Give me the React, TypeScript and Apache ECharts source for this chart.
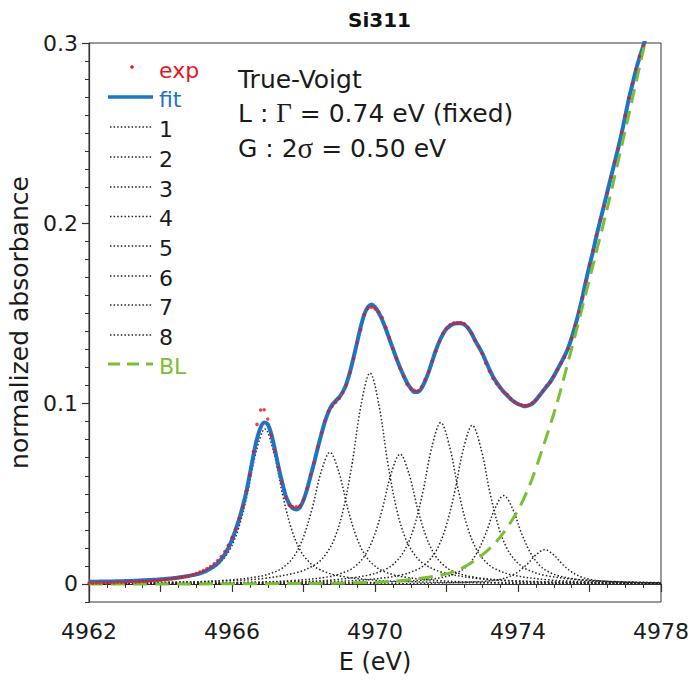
import React, { useEffect, useRef } from "react";
import * as echarts from "echarts";

// Energy grid of the measured / fitted spectrum (eV)
const energy = [
  4962.0, 4962.1, 4962.2, 4962.3, 4962.4, 4962.5, 4962.6, 4962.7, 4962.8, 4962.9,
  4963.0, 4963.1, 4963.2, 4963.3, 4963.4, 4963.5, 4963.6, 4963.7, 4963.8, 4963.9,
  4964.0, 4964.1, 4964.2, 4964.3, 4964.4, 4964.5, 4964.6, 4964.7, 4964.8, 4964.9,
  4965.0, 4965.1, 4965.2, 4965.3, 4965.4, 4965.5, 4965.6, 4965.7, 4965.8, 4965.9,
  4966.0, 4966.1, 4966.2, 4966.3, 4966.4, 4966.5, 4966.6, 4966.7, 4966.8, 4966.9,
  4967.0, 4967.1, 4967.2, 4967.3, 4967.4, 4967.5, 4967.6, 4967.7, 4967.8, 4967.9,
  4968.0, 4968.1, 4968.2, 4968.3, 4968.4, 4968.5, 4968.6, 4968.7, 4968.8, 4968.9,
  4969.0, 4969.1, 4969.2, 4969.3, 4969.4, 4969.5, 4969.6, 4969.7, 4969.8, 4969.9,
  4970.0, 4970.1, 4970.2, 4970.3, 4970.4, 4970.5, 4970.6, 4970.7, 4970.8, 4970.9,
  4971.0, 4971.1, 4971.2, 4971.3, 4971.4, 4971.5, 4971.6, 4971.7, 4971.8, 4971.9,
  4972.0, 4972.1, 4972.2, 4972.3, 4972.4, 4972.5, 4972.6, 4972.7, 4972.8, 4972.9,
  4973.0, 4973.1, 4973.2, 4973.3, 4973.4, 4973.5, 4973.6, 4973.7, 4973.8, 4973.9,
  4974.0, 4974.1, 4974.2, 4974.3, 4974.4, 4974.5, 4974.6, 4974.7, 4974.8, 4974.9,
  4975.0, 4975.1, 4975.2, 4975.3, 4975.4, 4975.5, 4975.6, 4975.7, 4975.8, 4975.9,
  4976.0, 4976.1, 4976.2, 4976.3, 4976.4, 4976.5, 4976.6, 4976.7, 4976.8, 4976.9,
  4977.0, 4977.1, 4977.2, 4977.3, 4977.4, 4977.5, 4977.6,
];

// measured points (exp)
const expValues = [
  0.0005, 0.0004, 0.0006, 0.0005, 0.0007, 0.0006, 0.0008, 0.0007, 0.0009, 0.001,
  0.0009, 0.0011, 0.0012, 0.0011, 0.0013, 0.0015, 0.0014, 0.0016, 0.0018, 0.0019,
  0.0021, 0.0023, 0.0025, 0.0027, 0.003, 0.0034, 0.0037, 0.0041, 0.0046, 0.0051,
  0.0058, 0.0066, 0.0074, 0.0085, 0.0097, 0.0112, 0.013, 0.0152, 0.018, 0.0215,
  0.0258, 0.0305, 0.0365, 0.043, 0.0515, 0.0605, 0.0735, 0.0885, 0.0965, 0.0966,
  0.0915, 0.0825, 0.0738, 0.0645, 0.0565, 0.0478, 0.0436, 0.0428, 0.0428, 0.0433,
  0.0468, 0.053, 0.0605, 0.0672, 0.076, 0.0838, 0.0905, 0.0958, 0.0985, 0.1008,
  0.103, 0.1062, 0.1105, 0.1172, 0.125, 0.1338, 0.141, 0.1495, 0.1528, 0.1535,
  0.1527, 0.151, 0.1478, 0.1424, 0.1365, 0.1306, 0.125, 0.1196, 0.115, 0.1108,
  0.1082, 0.1074, 0.1072, 0.1092, 0.1132, 0.1178, 0.1236, 0.129, 0.1345, 0.139,
  0.1418, 0.1438, 0.1447, 0.1449, 0.1448, 0.1443, 0.1422, 0.1388, 0.1352, 0.1315,
  0.1278, 0.1224, 0.118, 0.114, 0.1112, 0.1088, 0.1066, 0.105, 0.1028, 0.101,
  0.0998, 0.0992, 0.0989, 0.0992, 0.1005, 0.102, 0.1044, 0.1072, 0.1098, 0.112,
  0.1152, 0.119, 0.1225, 0.1258, 0.1305, 0.1362, 0.1435, 0.151, 0.159, 0.168,
  0.177, 0.185, 0.1935, 0.202, 0.2095, 0.217, 0.2255, 0.234, 0.2415, 0.2505,
  0.26, 0.2695, 0.2775, 0.2855, 0.2925, 0.2985, 0.3055,
];

// fitted curve (fit)
const fitValues = [
  0.0012, 0.0012, 0.0012, 0.0013, 0.0013, 0.0013, 0.0014, 0.0014, 0.0015, 0.0015,
  0.0016, 0.0017, 0.0017, 0.0018, 0.0019, 0.002, 0.0021, 0.0022, 0.0023, 0.0024,
  0.0026, 0.0027, 0.0029, 0.0031, 0.0033, 0.0036, 0.0039, 0.0042, 0.0045, 0.0049,
  0.0053, 0.0059, 0.0066, 0.0075, 0.0086, 0.0099, 0.0115, 0.0137, 0.0165, 0.02,
  0.0245, 0.03, 0.036, 0.043, 0.051, 0.061, 0.0715, 0.0805, 0.0868, 0.0895,
  0.0885, 0.083, 0.0745, 0.065, 0.0565, 0.049, 0.0445, 0.042, 0.0413, 0.0425,
  0.0465, 0.0525, 0.06, 0.0675, 0.0755, 0.083, 0.09, 0.0955, 0.0993, 0.1015,
  0.1035, 0.1065, 0.111, 0.1175, 0.1255, 0.134, 0.1425, 0.1495, 0.1535, 0.155,
  0.1535, 0.1505, 0.1465, 0.1415, 0.136, 0.1305, 0.125, 0.12, 0.1155, 0.1115,
  0.1085, 0.1065, 0.1065, 0.1085, 0.1125, 0.1175, 0.1235, 0.1295, 0.1345, 0.1385,
  0.1415, 0.1432, 0.1442, 0.1446, 0.1446, 0.1438, 0.142, 0.139, 0.135, 0.1315,
  0.128, 0.1235, 0.119, 0.115, 0.1118, 0.109, 0.1065, 0.1045, 0.1025, 0.101,
  0.0998, 0.099, 0.0985, 0.099, 0.1, 0.102, 0.1045, 0.107, 0.1095, 0.112,
  0.1152, 0.1188, 0.1225, 0.1263, 0.1308, 0.1365, 0.1432, 0.1505, 0.1588, 0.168,
  0.1765, 0.1845, 0.1935, 0.2015, 0.2095, 0.2175, 0.2255, 0.2335, 0.2415, 0.25,
  0.2595, 0.269, 0.277, 0.285, 0.292, 0.298, 0.305,
];

// component peaks 1..8 : [E, value]
const peak1 = [
  [4962, 0.00085], [4962.92, 0.0013], [4963.92, 0.0022], [4964.92, 0.0048], [4965.42, 0.0083],
  [4965.67, 0.0119], [4965.92, 0.0183], [4966.17, 0.0301], [4966.42, 0.0491], [4966.67, 0.0729],
  [4966.92, 0.086], [4967.17, 0.0729], [4967.42, 0.0491], [4967.67, 0.0301], [4967.92, 0.0183],
  [4968.17, 0.0119], [4968.42, 0.0083], [4968.92, 0.0048], [4969.92, 0.0022], [4970.92, 0.0013],
  [4972.92, 0.00058], [4974.92, 0.00033], [4978, 0.00016],
];
const peak2 = [
  [4962, 0.0004], [4964.74, 0.0011], [4965.74, 0.0019], [4966.74, 0.0041], [4967.24, 0.007],
  [4967.49, 0.0101], [4967.74, 0.0155], [4967.99, 0.0256], [4968.24, 0.0417], [4968.49, 0.0619],
  [4968.74, 0.073], [4968.99, 0.0619], [4969.24, 0.0417], [4969.49, 0.0256], [4969.74, 0.0155],
  [4969.99, 0.0101], [4970.24, 0.007], [4970.74, 0.0041], [4971.74, 0.0019], [4972.74, 0.0011],
  [4974.74, 0.00049], [4976.74, 0.00028], [4978, 0.00021],
];
const peak3 = [
  [4962, 0.00046], [4963.86, 0.00078], [4965.86, 0.00175], [4966.86, 0.003], [4967.86, 0.0066],
  [4968.36, 0.0112], [4968.61, 0.0161], [4968.86, 0.0249], [4969.11, 0.041], [4969.36, 0.0668],
  [4969.61, 0.0992], [4969.86, 0.117], [4970.11, 0.0992], [4970.36, 0.0668], [4970.61, 0.041],
  [4970.86, 0.0249], [4971.11, 0.0161], [4971.36, 0.0112], [4971.86, 0.0066], [4972.86, 0.003],
  [4973.86, 0.00175], [4975.86, 0.00078], [4977.86, 0.00044], [4978, 0.00043],
];
const peak4 = [
  [4962, 0.00023], [4964.7, 0.00048], [4966.7, 0.0011], [4967.7, 0.0019], [4968.7, 0.004],
  [4969.2, 0.0069], [4969.45, 0.0099], [4969.7, 0.0153], [4969.95, 0.0252], [4970.2, 0.0411],
  [4970.45, 0.0611], [4970.7, 0.072], [4970.95, 0.0611], [4971.2, 0.0411], [4971.45, 0.0252],
  [4971.7, 0.0153], [4971.95, 0.0099], [4972.2, 0.0069], [4972.7, 0.004], [4973.7, 0.0019],
  [4974.7, 0.0011], [4976.7, 0.00048], [4978, 0.00033],
];
const peak5 = [
  [4962, 0.00022], [4963.84, 0.00034], [4965.84, 0.0006], [4967.84, 0.0013], [4968.84, 0.0023],
  [4969.84, 0.005], [4970.34, 0.0086], [4970.59, 0.0124], [4970.84, 0.0191], [4971.09, 0.0313],
  [4971.34, 0.0511], [4971.59, 0.0759], [4971.84, 0.0895], [4972.09, 0.0759], [4972.34, 0.0511],
  [4972.59, 0.0313], [4972.84, 0.0191], [4973.09, 0.0124], [4973.34, 0.0086], [4973.84, 0.005],
  [4974.84, 0.0023], [4975.84, 0.0013], [4977.84, 0.0006], [4978, 0.00058],
];
const peak6 = [
  [4962, 0.00018], [4964.72, 0.00033], [4966.72, 0.00059], [4968.72, 0.0013], [4969.72, 0.0023],
  [4970.72, 0.0049], [4971.22, 0.0084], [4971.47, 0.0121], [4971.72, 0.0187], [4971.97, 0.0308],
  [4972.22, 0.0502], [4972.47, 0.0746], [4972.72, 0.088], [4972.97, 0.0746], [4973.22, 0.0502],
  [4973.47, 0.0308], [4973.72, 0.0187], [4973.97, 0.0121], [4974.22, 0.0084], [4974.72, 0.0049],
  [4975.72, 0.0023], [4976.72, 0.0013], [4978, 0.00076],
];
const peak7 = [
  [4962, 0.00009], [4965.6, 0.00019], [4967.6, 0.00033], [4969.6, 0.00073], [4970.6, 0.0013],
  [4971.6, 0.0027], [4972.1, 0.0047], [4972.35, 0.0068], [4972.6, 0.0104], [4972.85, 0.0172],
  [4973.1, 0.028], [4973.35, 0.0416], [4973.6, 0.049], [4973.85, 0.0416], [4974.1, 0.028],
  [4974.35, 0.0172], [4974.6, 0.0104], [4974.85, 0.0068], [4975.1, 0.0047], [4975.6, 0.0027],
  [4976.6, 0.0013], [4977.6, 0.00073], [4978, 0.00061],
];
const peak8 = [
  [4962, 0.00003], [4966.75, 0.00007], [4968.75, 0.00013], [4970.75, 0.00028], [4971.75, 0.0005],
  [4972.75, 0.0011], [4973.25, 0.0018], [4973.5, 0.0026], [4973.75, 0.004], [4974.0, 0.0067],
  [4974.25, 0.0108], [4974.5, 0.0161], [4974.75, 0.019], [4975.0, 0.0161], [4975.25, 0.0108],
  [4975.5, 0.0067], [4975.75, 0.004], [4976.0, 0.0026], [4976.25, 0.0018], [4976.75, 0.0011],
  [4977.75, 0.0005], [4978, 0.00045],
];

// base line (BL)
const baseline = [
  [4962, 0], [4964, 0], [4966, 0.0001], [4968, 0.0003], [4969.2, 0.0006], [4970.4, 0.0013],
  [4971.2, 0.003], [4971.8, 0.0048], [4972.3, 0.0075], [4972.84, 0.0137], [4973.4, 0.0235],
  [4973.96, 0.0395], [4974.34, 0.0555], [4974.71, 0.0765], [4975.08, 0.0995], [4975.36, 0.12],
  [4975.73, 0.148], [4976.1, 0.177], [4976.48, 0.207], [4977.04, 0.255], [4977.55, 0.3], [4978, 0.338],
];

const peakNames = ["1", "2", "3", "4", "5", "6", "7", "8"];
const xLabelTicks = [4962, 4966, 4970, 4974, 4978];
const yLabelTicks = [0, 0.1, 0.2, 0.3];

const FONT = '"DejaVu Sans", sans-serif';
const SERIF = '"Liberation Serif", "DejaVu Serif", serif';
const RED = "#e8141f";
const BLUE = "#1f74c4";
const GREEN = "#79bf36";
const DOT = "#222222";
const AXIS = "#333";

export default function App() {
  const ref = useRef<HTMLDivElement>(null);

  useEffect(() => {
    if (!ref.current) return;
    const chart = echarts.init(ref.current, null, { renderer: "svg" });
    const peaks = [peak1, peak2, peak3, peak4, peak5, peak6, peak7, peak8];
    const expData = energy.map((e, i) => [e, expValues[i]]);
    const fitData = energy.map((e, i) => [e, fitValues[i]]);

    const legendLineY = [127, 157, 187, 216.5, 246, 276, 305, 335];
    const graphics: any[] = [];
    // legend
    graphics.push({ type: "circle", shape: { cx: 132, cy: 67, r: 1.8 }, style: { fill: RED } });
    graphics.push({
      type: "text", x: 159, y: 70,
      style: { text: "exp", fill: RED, fontSize: 22, fontFamily: FONT, verticalAlign: "middle" },
    });
    graphics.push({
      type: "line", shape: { x1: 108, y1: 97, x2: 153, y2: 97 },
      style: { stroke: BLUE, lineWidth: 3.5 },
    });
    graphics.push({
      type: "text", x: 159, y: 99,
      style: { text: "fit", fill: BLUE, fontSize: 22, fontFamily: FONT, verticalAlign: "middle" },
    });
    peakNames.forEach((n, i) => {
      const y = legendLineY[i];
      graphics.push({
        type: "line", shape: { x1: 110, y1: y, x2: 153, y2: y },
        style: { stroke: DOT, lineWidth: 1.5, lineDash: [1.5, 2.1] },
      });
      graphics.push({
        type: "text", x: 159, y: y + 2,
        style: { text: n, fill: "#1a1a1a", fontSize: 22, fontFamily: FONT, verticalAlign: "middle" },
      });
    });
    graphics.push({
      type: "line", shape: { x1: 108, y1: 364, x2: 153, y2: 364 },
      style: { stroke: GREEN, lineWidth: 3, lineDash: [12, 7] },
    });
    graphics.push({
      type: "text", x: 159, y: 366,
      style: { text: "BL", fill: GREEN, fontSize: 22, fontFamily: FONT, verticalAlign: "middle" },
    });
    // annotation
    graphics.push({
      type: "text", x: 238, y: 79,
      style: { text: "True-Voigt", fill: "#1a1a1a", fontSize: 25, fontFamily: FONT, verticalAlign: "middle" },
    });
    graphics.push({
      type: "text", x: 238, y: 113,
      style: {
        text: "{a|L : }{g|Γ}{a| = 0.74 eV (fixed)}",
        verticalAlign: "middle",
        rich: {
          a: { fontSize: 25, fontFamily: FONT, fill: "#1a1a1a" },
          g: { fontSize: 27, fontFamily: SERIF, fill: "#1a1a1a" },
        },
      },
    });
    graphics.push({
      type: "text", x: 238, y: 148,
      style: {
        text: "{a|G : 2}{g|σ}{a| = 0.50 eV}",
        verticalAlign: "middle",
        rich: {
          a: { fontSize: 25, fontFamily: FONT, fill: "#1a1a1a" },
          g: { fontSize: 29, fontFamily: SERIF, fill: "#1a1a1a" },
        },
      },
    });

    const option: any = {
      animation: false,
      backgroundColor: "#ffffff",
      title: {
        text: "Si311",
        left: 343,
        top: 5,
        textStyle: { fontSize: 20, fontWeight: "bold", fontFamily: FONT, color: "#111" },
      },
      grid: {
        left: 89, right: 30, top: 43, bottom: 80,
        show: true, borderColor: AXIS, borderWidth: 1,
        containLabel: false, outerBoundsMode: "none",
      },
      xAxis: {
        type: "value",
        min: 4962, max: 4978, interval: 2,
        name: "E (eV)", nameLocation: "middle", nameGap: 48,
        nameTextStyle: { fontSize: 24, fontFamily: FONT, color: "#1a1a1a" },
        axisLine: { show: true, lineStyle: { color: AXIS, width: 1.2 } },
        axisTick: { show: true, inside: false, length: 8, lineStyle: { color: AXIS, width: 1.2 } },
        minorTick: { show: true, splitNumber: 4, length: 4, lineStyle: { color: AXIS, width: 1 } },
        splitLine: { show: false },
        minorSplitLine: { show: false },
        axisLabel: {
          fontSize: 22, fontFamily: FONT, color: "#1a1a1a", margin: 18,
          showMinLabel: true, showMaxLabel: true,
          formatter: (v: number) => (xLabelTicks.indexOf(Math.round(v)) >= 0 ? String(Math.round(v)) : ""),
        },
      },
      yAxis: [
        {
          type: "value",
          min: -0.01, max: 0.3, interval: 0.01,
          position: "left",
          name: "normalized absorbance", nameLocation: "middle", nameGap: 55,
          nameTextStyle: { fontSize: 25, fontFamily: FONT, color: "#1a1a1a" },
          axisLine: { show: true, lineStyle: { color: AXIS, width: 1.2 } },
          axisTick: { show: true, inside: false, length: 4, lineStyle: { color: AXIS, width: 1 } },
          splitLine: { show: false },
          axisLabel: {
            fontSize: 22, fontFamily: FONT, color: "#1a1a1a", margin: 11,
            formatter: (v: number) => {
              const r = Math.round(v * 10) / 10;
              if (Math.abs(v - r) < 1e-6 && yLabelTicks.indexOf(r) >= 0) return String(r);
              return "";
            },
          },
        },
        {
          type: "value",
          min: -0.01, max: 0.3,
          position: "left",
          axisLine: { show: false },
          axisTick: { show: true, inside: false, length: 7, customValues: yLabelTicks, lineStyle: { color: AXIS, width: 1.2 } },
          axisLabel: { show: false },
          splitLine: { show: false },
        },
      ],
      graphic: graphics,
      series: [
        ...peaks.map((p, i) => ({
          name: peakNames[i],
          type: "line",
          data: p,
          smooth: 0.35,
          showSymbol: false,
          symbol: "none",
          silent: true,
          lineStyle: { color: DOT, width: 1.5, type: [1.5, 2.1] },
          z: 2,
        })),
        {
          name: "fit",
          type: "line",
          data: fitData,
          smooth: 0.3,
          showSymbol: false,
          symbol: "none",
          lineStyle: { color: BLUE, width: 4 },
          z: 3,
        },
        {
          name: "BL",
          type: "line",
          data: baseline,
          smooth: 0.3,
          showSymbol: false,
          symbol: "none",
          lineStyle: { color: GREEN, width: 3, type: [14, 8] },
          z: 4,
        },
        {
          name: "exp",
          type: "scatter",
          data: expData,
          symbol: "circle",
          symbolSize: 3.5,
          itemStyle: { color: RED },
          z: 5,
        },
      ],
    };
    chart.setOption(option);
    return () => chart.dispose();
  }, []);

  return (
    <div
      ref={ref}
      style={{ position: "absolute", left: 0, top: 0, width: 691, height: 682, background: "#fff" }}
    />
  );
}
